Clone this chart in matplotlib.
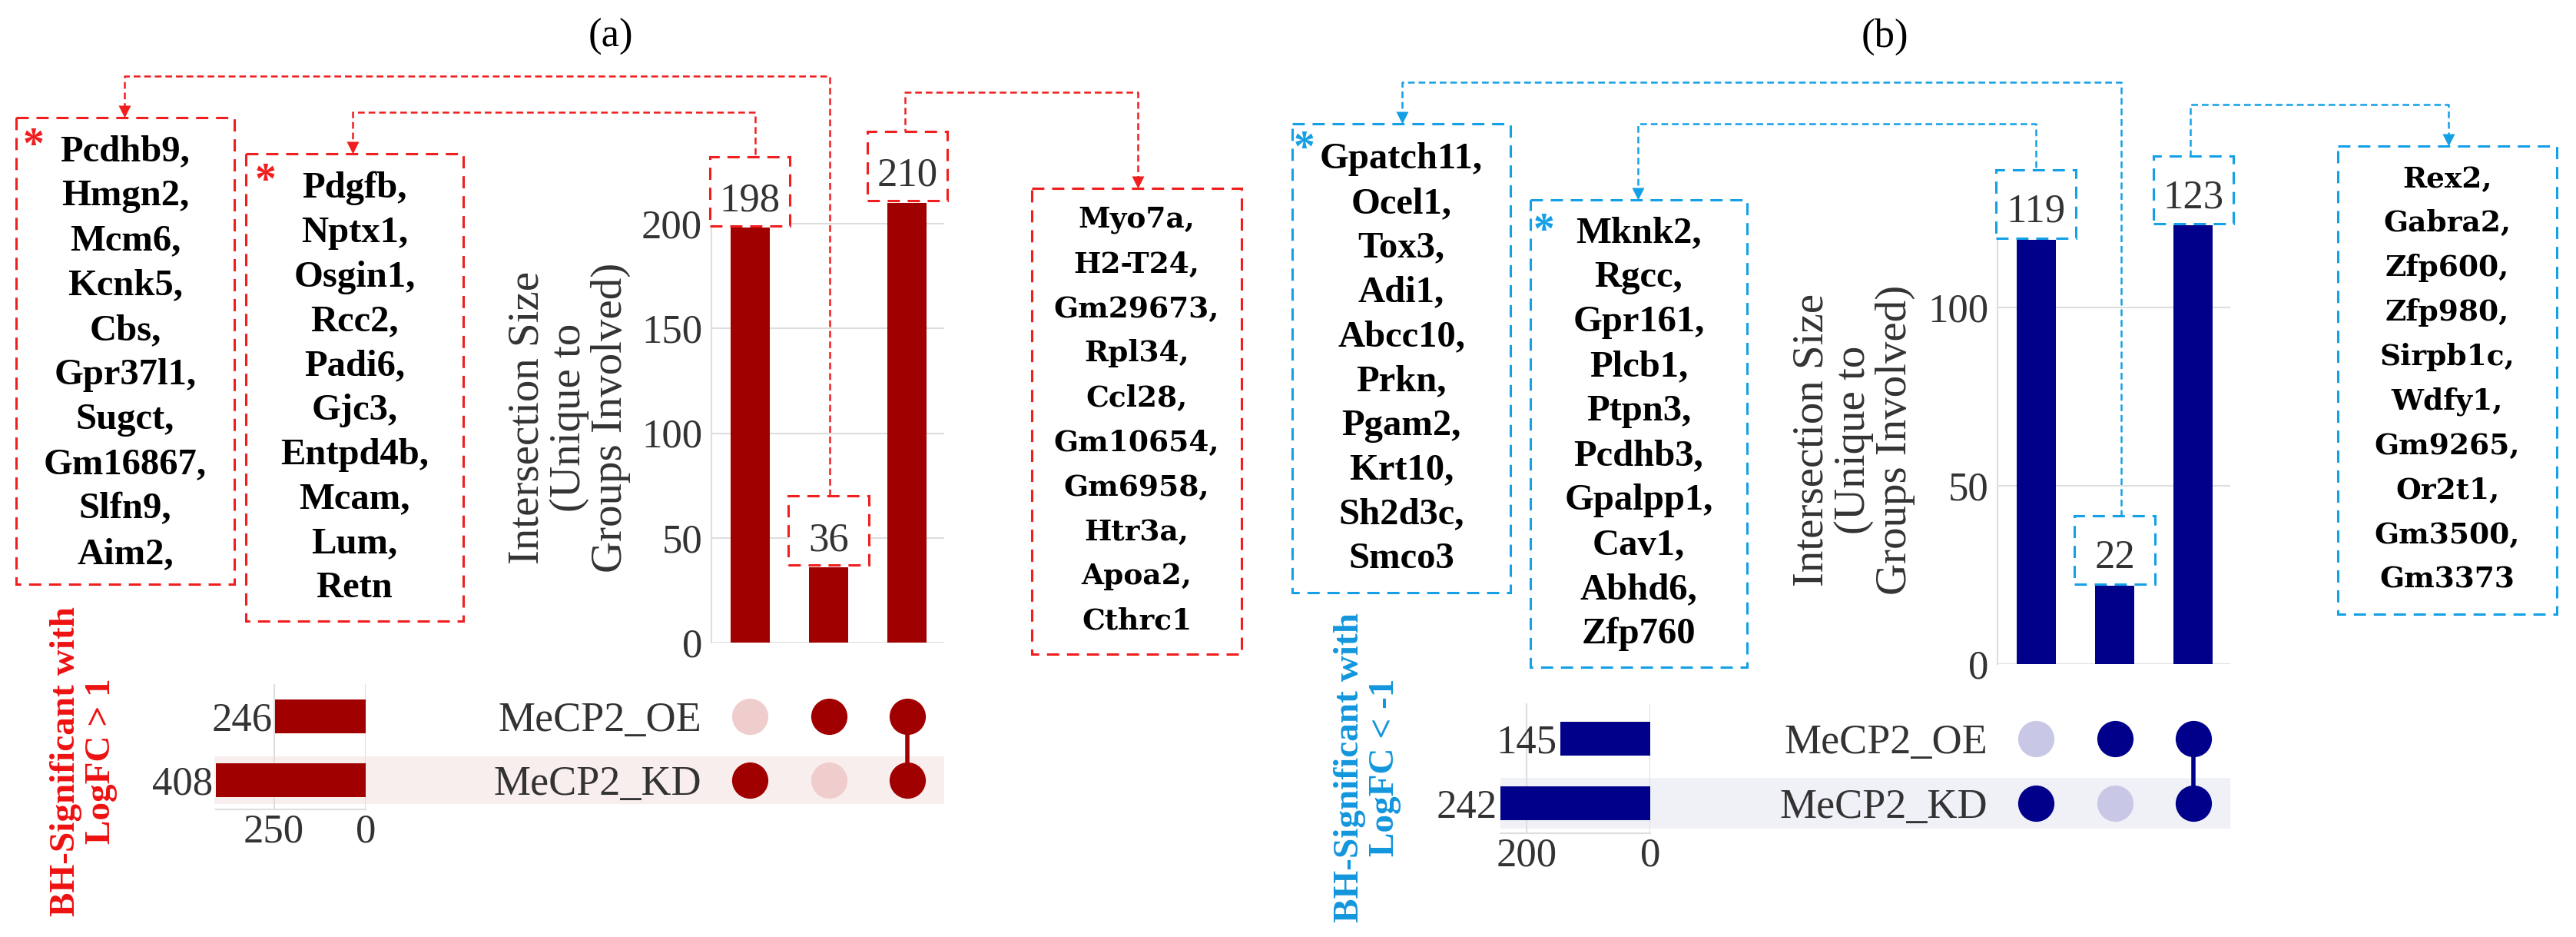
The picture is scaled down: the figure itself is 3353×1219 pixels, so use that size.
import matplotlib
matplotlib.use('Agg')
import matplotlib.pyplot as plt
from matplotlib.patches import Rectangle

plt.rcParams['font.family'] = ['Liberation Serif', 'DejaVu Serif']

W, H = 3353, 1219

# ---- data ----
sets = ['MeCP2_KD', 'MeCP2_OE']          # matrix rows, bottom to top
members = [[1, 0], [0, 1], [1, 1]]       # each intersection column: (KD, OE)

up_counts = [198, 36, 210]
up_sizes = [408, 246]                    # KD, OE
down_counts = [119, 22, 123]
down_sizes = [242, 145]

up_oe_genes = ['Pcdhb9,', 'Hmgn2,', 'Mcm6,', 'Kcnk5,', 'Cbs,', 'Gpr37l1,', 'Sugct,',
               'Gm16867,', 'Slfn9,', 'Aim2,']
up_kd_genes = ['Pdgfb,', 'Nptx1,', 'Osgin1,', 'Rcc2,', 'Padi6,', 'Gjc3,', 'Entpd4b,',
               'Mcam,', 'Lum,', 'Retn']
up_both_genes = ['Myo7a,', 'H2-T24,', 'Gm29673,', 'Rpl34,', 'Ccl28,', 'Gm10654,',
                 'Gm6958,', 'Htr3a,', 'Apoa2,', 'Cthrc1']
down_oe_genes = ['Gpatch11,', 'Ocel1,', 'Tox3,', 'Adi1,', 'Abcc10,', 'Prkn,', 'Pgam2,',
                 'Krt10,', 'Sh2d3c,', 'Smco3']
down_kd_genes = ['Mknk2,', 'Rgcc,', 'Gpr161,', 'Plcb1,', 'Ptpn3,', 'Pcdhb3,', 'Gpalpp1,',
                 'Cav1,', 'Abhd6,', 'Zfp760']
down_both_genes = ['Rex2,', 'Gabra2,', 'Zfp600,', 'Zfp980,', 'Sirpb1c,', 'Wdfy1,',
                   'Gm9265,', 'Or2t1,', 'Gm3500,', 'Gm3373']

fig = plt.figure(figsize=(W / 100, H / 100), dpi=100)
ov = fig.add_axes([0, 0, 1, 1], zorder=0)
ov.set_xlim(0, W)
ov.set_ylim(H, 0)
ov.axis('off')

TXT = '#333333'
GRID = '#dedede'
BOX_LS = (0, (5.2, 3.3))
CON_LS = (0, (3.5, 2.0))


def px_axes(x0, y0, x1, y1):
    ax = fig.add_axes([x0 / W, 1 - y1 / H, (x1 - x0) / W, (y1 - y0) / H], zorder=2)
    ax.set_facecolor('none')
    return ax


def gene_box(box, genes, color, star, wide):
    x0, y0, x1, y1, first, step = box
    ov.add_patch(Rectangle((x0, y0), x1 - x0, y1 - y0, fill=False, ec=color,
                           lw=2.2, ls=BOX_LS))
    for k, g in enumerate(genes):
        if wide:
            ov.text((x0 + x1) / 2, first + k * step, g, ha='center', va='center',
                    fontsize=27, fontweight='bold', family='DejaVu Serif')
        else:
            ov.text((x0 + x1) / 2, first + k * step, g, ha='center', va='center',
                    fontsize=35, fontweight='bold')
    if star:
        ov.text(star[0], star[1] + 11, '*', ha='center', va='center', fontsize=40,
                fontweight='bold', color=color)


def connector(pts, color):
    xs = [p[0] for p in pts]
    ys = [p[1] for p in pts]
    ys[-1] -= 8
    ov.plot(xs, ys, color=color, lw=1.8, ls=CON_LS)
    ov.plot(xs[-1], ys[-1], marker='v', ms=12, color=color, mec='none')


def panel(counts, sizes, L):
    dark, light, shade, line = L['colors']

    # shaded KD row
    sx0, sx1, sy0, sy1 = L['shade']
    ov.add_patch(Rectangle((sx0, sy0), sx1 - sx0, sy1 - sy0, color=shade, lw=0))

    # intersection bars
    ax = px_axes(*L['bar_px'])
    x = list(range(len(counts)))
    ax.bar(x, counts, width=0.5, color=dark, zorder=2)
    ax.set_xlim(-0.49, 2.47)
    ax.set_ylim(0, L['ytop'])
    ax.set_yticks(L['yticks'])
    ax.set_xticks([])
    ax.grid(axis='y', color=GRID, lw=1.5)
    ax.set_axisbelow(True)
    for s in ['top', 'right', 'bottom']:
        ax.spines[s].set_visible(False)
    ax.spines['left'].set_color(GRID)
    ax.spines['left'].set_linewidth(1.5)
    ax.tick_params(axis='y', length=0, pad=8.6, labelsize=38, labelcolor=TXT)
    ax.set_ylabel('Intersection Size\n(Unique to\nGroups Involved)', fontsize=41,
                  color=TXT, linespacing=1.05)
    ax.yaxis.set_label_coords(L['ylab_x'], 0.5)
    for i, v in enumerate(counts):
        ax.add_patch(Rectangle((i - 0.51, v + L['box_gap']), 1.02, L['box_h'], fc='white',
                               ec=line, lw=2.2, ls=BOX_LS, clip_on=False, zorder=3))
        ax.text(i, v + L['txt_off'], str(v), ha='center', va='baseline', fontsize=38,
                color=TXT, zorder=4, clip_on=False)

    # membership matrix
    mx = px_axes(*L['mat_px'])
    mx.set_xlim(-0.49, 2.47)
    mx.set_ylim(*L['mat_ylim'])
    for i, m in enumerate(members):
        on = [r for r in range(2) if m[r]]
        if len(on) > 1:
            mx.plot([i, i], [min(on), max(on)], color=dark, lw=4, zorder=1)
        for r in range(2):
            mx.plot(i, r, 'o', ms=34, color=dark if m[r] else light, mec='none', zorder=2)
    mx.set_yticks([0, 1])
    mx.set_yticklabels(sets, fontsize=39, color=TXT)
    mx.set_xticks([])
    mx.tick_params(length=0, pad=9)
    for s in mx.spines.values():
        s.set_visible(False)

    # set sizes
    sx = px_axes(*L['set_px'])
    sx.barh([0, 1], sizes, height=0.53, color=dark, zorder=2)
    sx.set_xlim(sizes[0], 0)
    sx.set_ylim(*L['set_ylim'])
    sx.set_xticks(L['set_ticks'])
    sx.set_yticks([])
    sx.grid(axis='x', color=GRID, lw=1.5)
    sx.set_axisbelow(True)
    for s in ['top', 'right', 'left']:
        sx.spines[s].set_visible(False)
    sx.spines['bottom'].set_color(GRID)
    sx.spines['bottom'].set_linewidth(1.5)
    sx.tick_params(axis='x', length=0, pad=4, labelsize=38, labelcolor=TXT)
    for r, v in enumerate(sizes):
        sx.annotate(str(v), (v, r), xytext=(-3, 0), textcoords='offset points',
                    ha='right', va='center_baseline', fontsize=38, color=TXT)


# ---- panel (a) ----
RED = '#f01e1e'
panel(up_counts, up_sizes, dict(
    colors=('#a10000', '#f0cdcd', '#f9eeee', RED),
    shade=(279, 1229, 984, 1046),
    bar_px=(926, 250, 1229, 836), ytop=(836 - 250) / 2.725, yticks=[0, 50, 100, 150, 200],
    ylab_x=(821 - 926) / 303, box_gap=1, box_h=33, txt_off=8,
    mat_px=(926, 890, 1229, 1060), mat_ylim=(-0.542, 1.506),
    set_px=(281, 890, 476, 1053), set_ylim=(-0.458, 1.506), set_ticks=[250, 0]))

gene_box((21, 153, 305, 760, 197, 58.2), up_oe_genes, RED, (44, 180), False)
gene_box((320, 200, 603, 808, 245, 57.8), up_kd_genes, RED, (346, 226), False)
gene_box((1343, 245, 1616, 851, 286, 58.0), up_both_genes, RED, None, True)
connector([(1080, 645), (1080, 99), (162, 99), (162, 153)], RED)
connector([(983, 201), (983, 146), (459, 146), (459, 200)], RED)
connector([(1178, 176), (1178, 120), (1481, 120), (1481, 245)], RED)
ov.text(795, 48, '(a)', ha='center', va='center', fontsize=38)
ov.text(109, 990, 'BH-Significant with\nLogFC > 1', rotation=90, ha='center', va='center',
        fontsize=34, fontweight='bold', color='#ee1111', linespacing=1.1)

# ---- panel (b) ----
BLUE = '#14a0e6'
panel(down_counts, down_sizes, dict(
    colors=('#00008b', '#c8c8e6', '#f0f0f7', BLUE),
    shade=(1953, 2903, 1012, 1078),
    bar_px=(2600, 280, 2903, 864), ytop=(864 - 280) / 4.64, yticks=[0, 50, 100],
    ylab_x=(2493 - 2600) / 303, box_gap=0.5, box_h=19, txt_off=5,
    mat_px=(2600, 915, 2903, 1090), mat_ylim=(-0.536, 1.548),
    set_px=(1953, 915, 2148, 1084), set_ylim=(-0.464, 1.548), set_ticks=[200, 0]))

gene_box((1682, 161, 1966, 771, 207, 57.8), down_oe_genes, BLUE, (1698, 184), False)
gene_box((1992, 260, 2274, 868, 303, 58.0), down_kd_genes, BLUE, (2010, 291), False)
gene_box((3043, 190, 3328, 799, 233, 57.9), down_both_genes, BLUE, None, True)
connector([(2761, 672), (2761, 107), (1825, 107), (1825, 161)], BLUE)
connector([(2650, 218), (2650, 161), (2132, 161), (2132, 260)], BLUE)
connector([(2851, 204), (2851, 136), (3187, 136), (3187, 190)], BLUE)
ov.text(2453, 48, '(b)', ha='center', va='center', fontsize=38)
ov.text(1780, 998, 'BH-Significant with\nLogFC < -1', rotation=90, ha='center', va='center',
        fontsize=34, fontweight='bold', color='#1296dc', linespacing=1.1)

fig.savefig('out.png', dpi=100)
